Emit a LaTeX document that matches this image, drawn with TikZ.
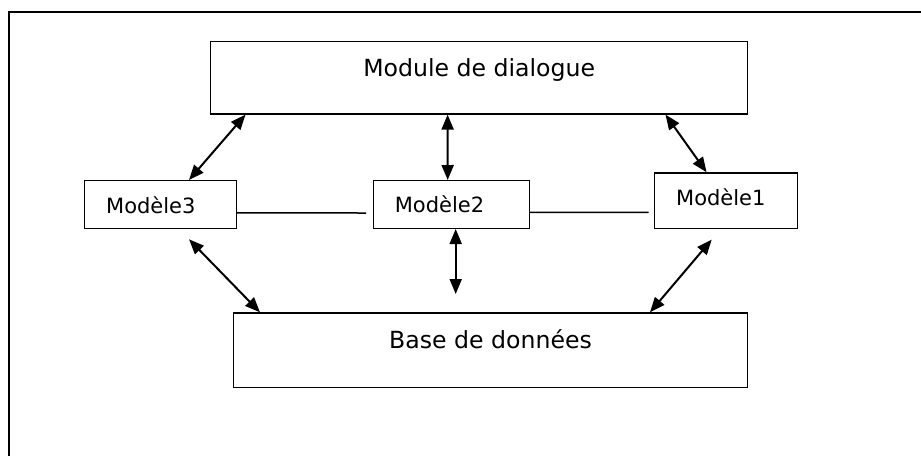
\documentclass[tikz,border=0pt]{standalone}
\usepackage{fontspec}
\setmainfont{DejaVu Sans}
\usetikzlibrary{arrows.meta}

\begin{document}
\begin{tikzpicture}[x = 1pt, y = -1pt]
\tikzstyle{bigStyle} = [draw, line width = 1.3pt, anchor = north west, inner ysep = 0pt, font = \fontsize{23.6}{28}\selectfont]
\tikzstyle{modelStyle} = [draw, line width = 1.3pt, anchor = north west, inner xsep = 21.5pt, inner ysep = 0pt, align = left, font = \fontsize{21}{25}\selectfont]
\tikzstyle{linkStyle} = [line width = 2pt, {Triangle[length = 15pt, width = 12pt]}-{Triangle[length = 15pt, width = 12pt]}]
\tikzstyle{lineStyle} = [line width = 1.5pt]
\useasboundingbox (0,0) rectangle (921,456);
\draw[line width = 2pt] (921,12) -- (9,12) -- (9,456);
% boxes
\node[bigStyle, minimum width = 537pt, text height = 35pt, text depth = 37.6pt] (dialogue) at (210,40.7) {Module de dialogue};
\node[modelStyle, text width = 108.7pt, text height = 32.7pt, text depth = 14.8pt] (m3) at (84,180) {Modèle3};
\node[modelStyle, text width = 113pt, text height = 32.3pt, text depth = 15.4pt] (m2) at (372.7,180) {Modèle2};
\node[modelStyle, text width = 99.7pt, text height = 32.7pt, text depth = 22.7pt] (m1) at (654,172.3) {Modèle1};
\node[bigStyle, minimum width = 514.4pt, text height = 35.4pt, text depth = 39pt] (base) at (232.7,312.3) {Base de données};
\coordinate (m2free) at ([xshift = 83pt, yshift = -65pt]m2.south west);
% links
\draw[linkStyle] ([xshift = 35.5pt]dialogue.south west) -- ([xshift = 105pt]m3.north west);
\draw[linkStyle] ([xshift = 237.6pt]dialogue.south west) -- ([xshift = 75pt]m2.north west);
\draw[linkStyle] ([xshift = 455.5pt]dialogue.south west) -- ([xshift = 52.6pt]m1.north west);
\draw[linkStyle] ([xshift = 105pt, yshift = -10.5pt]m3.south west) -- ([xshift = 27.3pt]base.north west);
\draw[linkStyle] ([xshift = 83pt]m2.south west) -- (m2free);
\draw[linkStyle] ([xshift = 57.7pt, yshift = -10.6pt]m1.south west) -- ([xshift = 417.3pt]base.north west);
\draw[lineStyle] ([yshift = -8.5pt]m3.east) -- ([xshift = -6.7pt, yshift = -8.5pt]m2.west);
\draw[lineStyle] ([yshift = -7.9pt]m2.east) -- ([xshift = -5.3pt, yshift = -11.7pt]m1.west);
\end{tikzpicture}
\end{document}
